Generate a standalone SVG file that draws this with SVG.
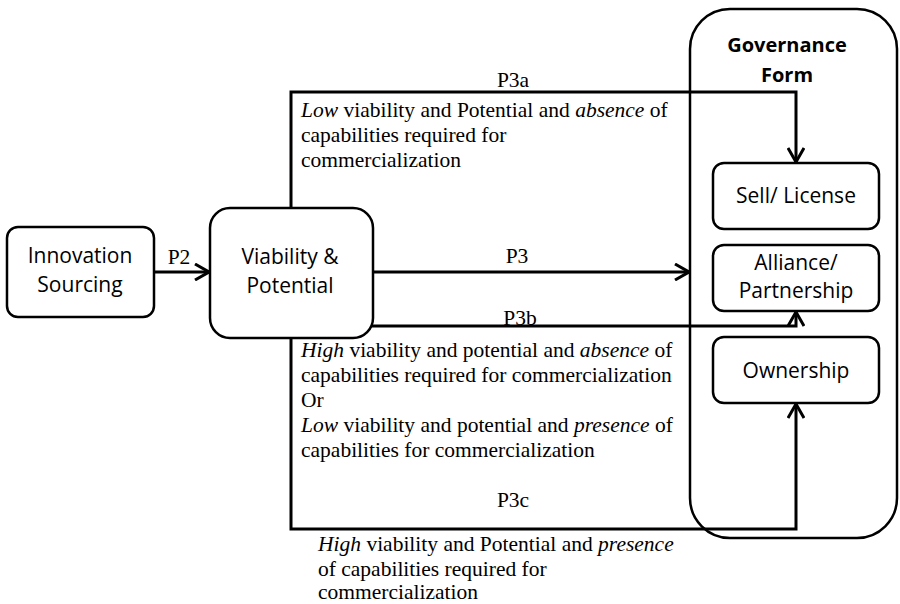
<svg xmlns="http://www.w3.org/2000/svg" width="900" height="604" viewBox="0 0 900 604">
<style>
.box{fill:#fff;stroke:#000;stroke-width:2.5}
.big{fill:none;stroke:#000;stroke-width:2.5}
.sans{font-family:"Open Sans","Liberation Sans",sans-serif;font-size:21px;fill:#000;text-anchor:middle}
.bold{font-weight:bold;font-size:20px}
.serif{font-family:"Liberation Serif","Times New Roman",serif;font-size:21.5px;fill:#000}
.mid{text-anchor:middle}
.conn{fill:none;stroke:#000;stroke-width:3}
</style>
<defs>
<marker id="arr" markerUnits="userSpaceOnUse" viewBox="0 0 16 18" refX="15" refY="9" markerWidth="16" markerHeight="18" orient="auto">
<path d="M1,1 L15,9 L1,17" fill="none" stroke="#000" stroke-width="3"/>
</marker>
</defs>
<g id="governance">
<rect class="big" x="690" y="9" width="207" height="529" rx="40"/>
<text class="sans bold" x="787" y="52">Governance</text>
<text class="sans bold" x="787" y="82">Form</text>
</g>
<g id="connectors">
<path class="conn" d="M291,208 V92 H796 V162" marker-end="url(#arr)"/>
<path class="conn" d="M291,338 V529 H796 V404" marker-end="url(#arr)"/>
<path class="conn" d="M154,272 H209" marker-end="url(#arr)"/>
<path class="conn" d="M373,272 H689" marker-end="url(#arr)"/>
<path class="conn" d="M368,326 H796 V312" marker-end="url(#arr)"/>
</g>
<g id="innovation">
<rect class="box" x="7" y="227" width="147" height="90" rx="11"/>
<text class="sans" x="80" y="263">Innovation</text>
<text class="sans" x="80" y="292">Sourcing</text>
</g>
<g id="viability">
<rect class="box" x="210" y="208" width="163" height="130" rx="20"/>
<text class="sans" x="290" y="264">Viability &amp;</text>
<text class="sans" x="290" y="293">Potential</text>
</g>
<g id="sell">
<rect class="box" x="713" y="163" width="166" height="66" rx="11"/>
<text class="sans" x="796" y="203">Sell/ License</text>
</g>
<g id="alliance">
<rect class="box" x="713" y="245" width="166" height="66" rx="11"/>
<text class="sans" x="796" y="270">Alliance/</text>
<text class="sans" x="796" y="298">Partnership</text>
</g>
<g id="ownership">
<rect class="box" x="713" y="337" width="166" height="66" rx="11"/>
<text class="sans" x="796" y="378">Ownership</text>
</g>
<g id="labels">
<text class="serif" x="179" y="264" text-anchor="middle">P2</text>
<text class="serif mid" x="513" y="87">P3a</text>
<text class="serif mid" x="517" y="263">P3</text>
<text class="serif mid" x="520" y="325">P3b</text>
<text class="serif mid" x="513" y="507">P3c</text>
<text class="serif" x="301" y="117"><tspan font-style="italic">Low</tspan> viability and Potential and <tspan font-style="italic">absence</tspan> of</text>
<text class="serif" x="301" y="142">capabilities required for</text>
<text class="serif" x="301" y="167">commercialization</text>
<text class="serif" x="301" y="357"><tspan font-style="italic">High</tspan> viability and potential and <tspan font-style="italic">absence</tspan> of</text>
<text class="serif" x="301" y="382">capabilities required for commercialization</text>
<text class="serif" x="301" y="407">Or</text>
<text class="serif" x="301" y="432"><tspan font-style="italic">Low</tspan> viability and potential and <tspan font-style="italic">presence</tspan> of</text>
<text class="serif" x="301" y="457">capabilities for commercialization</text>
<text class="serif" x="318" y="551"><tspan font-style="italic">High</tspan>  viability and Potential and <tspan font-style="italic">presence</tspan></text>
<text class="serif" x="318" y="576">of capabilities required for</text>
<text class="serif" x="318" y="599">commercialization</text>
</g>
</svg>
